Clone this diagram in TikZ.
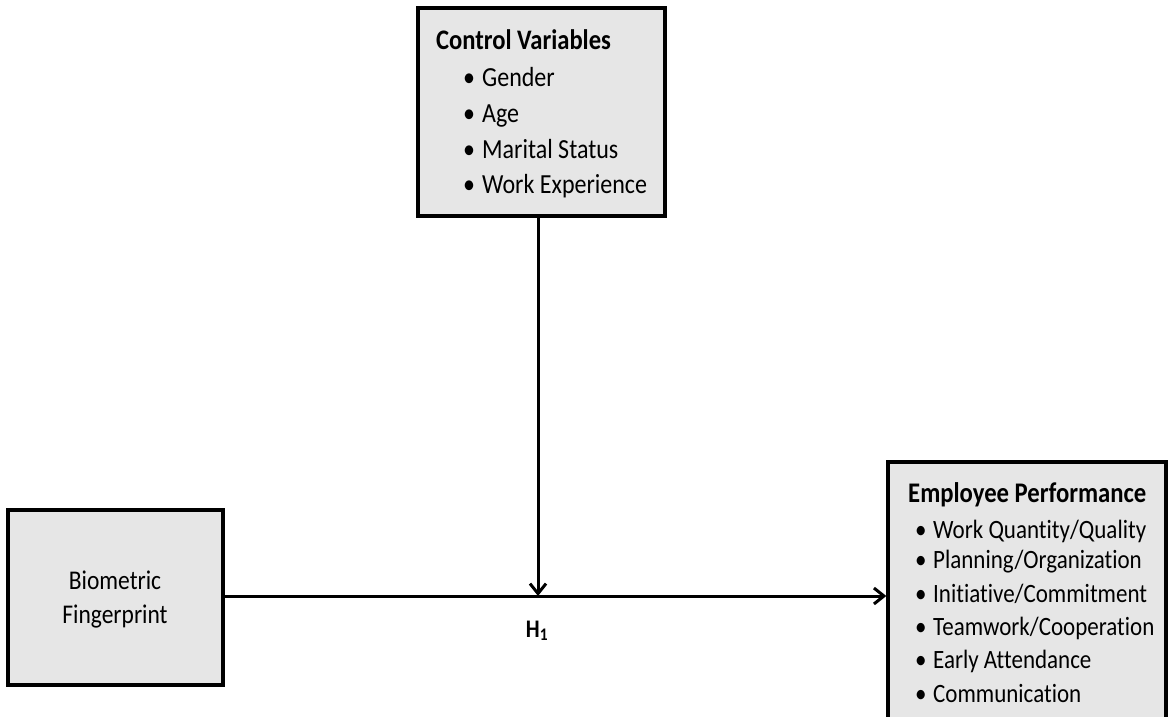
\documentclass[tikz,border=0pt]{standalone}
\usepackage{fontspec}
\setmainfont{Carlito}[Ligatures={NoCommon}]
\usetikzlibrary{arrows.meta,shadows}
\definecolor{boxfill}{HTML}{E6E6E6}
\newcommand\bul[1]{\makebox[#1][l]{\textbullet}}
\tikzset{
  box/.style={draw=black, line width=3.3pt, fill=boxfill, rectangle, inner sep=0pt,
    drop shadow={shadow xshift=1.5pt, shadow yshift=-1.5pt, fill=black, opacity=0.8}},
  txt/.style={anchor=base west, inner sep=0pt, font=\fontsize{23.5}{28}\selectfont, yscale=1.15, transform shape},
  ptxt/.style={txt, font=\fontsize{23}{28}\selectfont},
  ctxt/.style={anchor=base, inner sep=0pt, font=\fontsize{23.5}{28}\selectfont, yscale=1.15, transform shape},
  conn/.style={line width=3pt, -{Straight Barb[length=10pt,width=16pt,line width=3pt]}}
}
\begin{document}
\begin{tikzpicture}[x=1pt,y=-1pt]
\useasboundingbox (0,0) rectangle (1168,717);
\clip (0,0) rectangle (1168,717);
% boxes
\node[box, minimum width=247pt, minimum height=208pt] (ctrl) at (541.5,112) {};
\node[box, minimum width=215pt, minimum height=175pt] (bio) at (115.5,597.5) {};
\node[box, minimum width=278pt, minimum height=270pt] (perf) at (1027,597) {};
% control variables text
\node[txt, font=\fontsize{24.6}{28}\selectfont\bfseries] (ch) at (436,50) {Control Variables};
\node[txt, font=\fontsize{24}{28}\selectfont] (c1) at (463,86) {\bul{19pt}Gender};
\node[txt, font=\fontsize{24}{28}\selectfont] (c2) at (463,122) {\bul{19pt}Age};
\node[txt, font=\fontsize{24}{28}\selectfont] (c3) at (463,158) {\bul{19pt}Marital Status};
\node[txt, font=\fontsize{24}{28}\selectfont] (c4) at (463,193) {\bul{19pt}Work Experience};
% biometric text
\node[ctxt] (b1) at (115,589) {Biometric};
\node[ctxt] (b2) at (115,623) {Fingerprint};
% performance text
\node[txt, font=\fontsize{24.7}{28}\selectfont\bfseries] (ph) at (908,502) {Employee Performance};
\node[ptxt] (p1) at (915,538) {\bul{18pt}Work Quantity/Quality};
\node[ptxt] (p2) at (915,568) {\bul{18pt}Planning/Organization};
\node[ptxt] (p3) at (915,602) {\bul{18pt}Initiative/Commitment};
\node[ptxt] (p4) at (915,635) {\bul{18pt}Teamwork/Cooperation};
\node[ptxt] (p5) at (915,668) {\bul{18pt}Early Attendance};
\node[ptxt] (p6) at (915,702) {\bul{18pt}Communication};
% connectors
\coordinate (hit) at (538,596);
\draw[conn] (bio.east |- hit) -- (perf.west |- hit);
\draw[conn] (ctrl.south -| hit) -- (hit);
\node[ctxt, font=\fontsize{22}{26}\selectfont\bfseries] (h1) at (537,637) {H\textsubscript{1}};
\end{tikzpicture}
\end{document}
